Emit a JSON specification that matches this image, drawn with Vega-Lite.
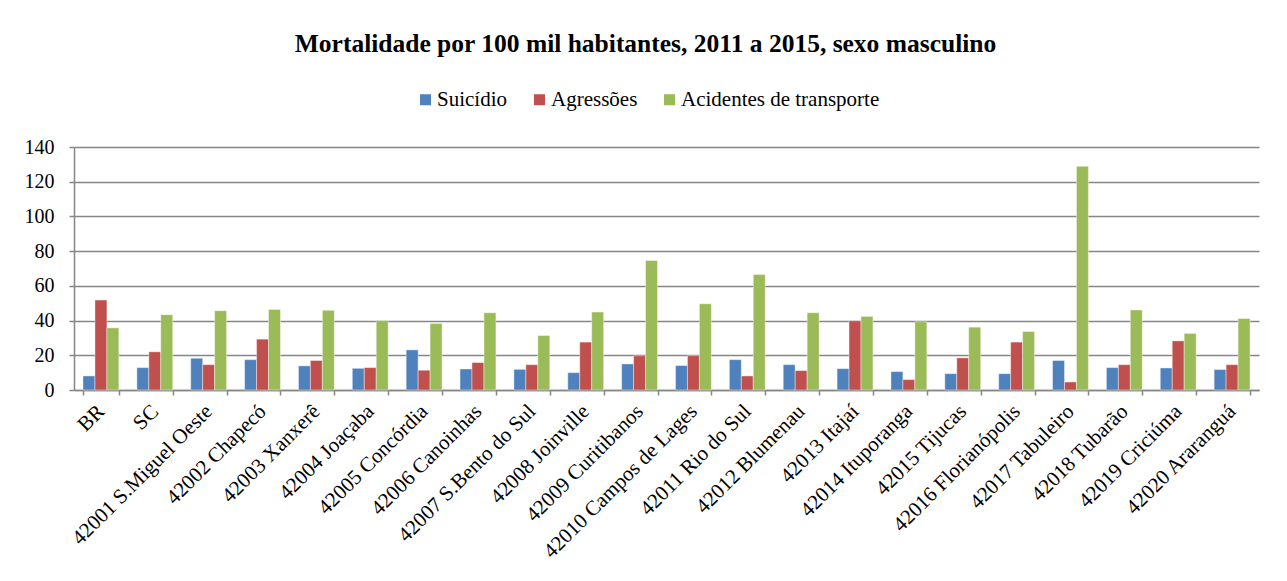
{
  "$schema": "https://vega.github.io/schema/vega-lite/v6.json",
  "autosize": {"type": "none"},
  "width": 1185,
  "height": 243,
  "padding": {"left": 74, "top": 147, "right": 28, "bottom": 191},
  "background": "white",
  "config": {
    "view": {"stroke": null},
    "font": "Liberation Serif, serif",
    "legend": {"labelFont": "Liberation Serif, serif", "labelFontSize": 21, "labelColor": "black"},
    "axis": {"labelFont": "Liberation Serif, serif"}
  },
  "title": {
    "text": "Mortalidade por 100 mil habitantes, 2011 a 2015, sexo masculino",
    "font": "Liberation Serif, serif",
    "fontSize": 25.5,
    "fontWeight": "bold",
    "color": "black",
    "baseline": "alphabetic",
    "offset": 12,
    "dx": -21
  },
  "data": {
    "values": [
      {"regiao": "BR", "causa": "Suicídio", "valor": 8.1},
      {"regiao": "BR", "causa": "Agressões", "valor": 51.8},
      {"regiao": "BR", "causa": "Acidentes de transporte", "valor": 35.8},
      {"regiao": "SC", "causa": "Suicídio", "valor": 12.9},
      {"regiao": "SC", "causa": "Agressões", "valor": 22.0},
      {"regiao": "SC", "causa": "Acidentes de transporte", "valor": 43.4},
      {"regiao": "42001 S.Miguel Oeste", "causa": "Suicídio", "valor": 18.3},
      {"regiao": "42001 S.Miguel Oeste", "causa": "Agressões", "valor": 14.6},
      {"regiao": "42001 S.Miguel Oeste", "causa": "Acidentes de transporte", "valor": 45.7},
      {"regiao": "42002 Chapecó", "causa": "Suicídio", "valor": 17.5},
      {"regiao": "42002 Chapecó", "causa": "Agressões", "valor": 29.3},
      {"regiao": "42002 Chapecó", "causa": "Acidentes de transporte", "valor": 46.4},
      {"regiao": "42003 Xanxerê", "causa": "Suicídio", "valor": 13.9},
      {"regiao": "42003 Xanxerê", "causa": "Agressões", "valor": 17.0},
      {"regiao": "42003 Xanxerê", "causa": "Acidentes de transporte", "valor": 45.9},
      {"regiao": "42004 Joaçaba", "causa": "Suicídio", "valor": 12.5},
      {"regiao": "42004 Joaçaba", "causa": "Agressões", "valor": 12.9},
      {"regiao": "42004 Joaçaba", "causa": "Acidentes de transporte", "valor": 40.1},
      {"regiao": "42005 Concórdia", "causa": "Suicídio", "valor": 23.1},
      {"regiao": "42005 Concórdia", "causa": "Agressões", "valor": 11.4},
      {"regiao": "42005 Concórdia", "causa": "Acidentes de transporte", "valor": 38.3},
      {"regiao": "42006 Canoinhas", "causa": "Suicídio", "valor": 12.1},
      {"regiao": "42006 Canoinhas", "causa": "Agressões", "valor": 15.8},
      {"regiao": "42006 Canoinhas", "causa": "Acidentes de transporte", "valor": 44.5},
      {"regiao": "42007 S.Bento do Sul", "causa": "Suicídio", "valor": 11.9},
      {"regiao": "42007 S.Bento do Sul", "causa": "Agressões", "valor": 14.6},
      {"regiao": "42007 S.Bento do Sul", "causa": "Acidentes de transporte", "valor": 31.4},
      {"regiao": "42008 Joinville", "causa": "Suicídio", "valor": 10.0},
      {"regiao": "42008 Joinville", "causa": "Agressões", "valor": 27.6},
      {"regiao": "42008 Joinville", "causa": "Acidentes de transporte", "valor": 44.9},
      {"regiao": "42009 Curitibanos", "causa": "Suicídio", "valor": 15.0},
      {"regiao": "42009 Curitibanos", "causa": "Agressões", "valor": 19.7},
      {"regiao": "42009 Curitibanos", "causa": "Acidentes de transporte", "valor": 74.6},
      {"regiao": "42010 Campos de Lages", "causa": "Suicídio", "valor": 14.1},
      {"regiao": "42010 Campos de Lages", "causa": "Agressões", "valor": 19.8},
      {"regiao": "42010 Campos de Lages", "causa": "Acidentes de transporte", "valor": 49.7},
      {"regiao": "42011 Rio do Sul", "causa": "Suicídio", "valor": 17.5},
      {"regiao": "42011 Rio do Sul", "causa": "Agressões", "valor": 8.1},
      {"regiao": "42011 Rio do Sul", "causa": "Acidentes de transporte", "valor": 66.5},
      {"regiao": "42012 Blumenau", "causa": "Suicídio", "valor": 14.6},
      {"regiao": "42012 Blumenau", "causa": "Agressões", "valor": 11.2},
      {"regiao": "42012 Blumenau", "causa": "Acidentes de transporte", "valor": 44.5},
      {"regiao": "42013 Itajaí", "causa": "Suicídio", "valor": 12.3},
      {"regiao": "42013 Itajaí", "causa": "Agressões", "valor": 39.9},
      {"regiao": "42013 Itajaí", "causa": "Acidentes de transporte", "valor": 42.4},
      {"regiao": "42014 Ituporanga", "causa": "Suicídio", "valor": 10.6},
      {"regiao": "42014 Ituporanga", "causa": "Agressões", "valor": 6.0},
      {"regiao": "42014 Ituporanga", "causa": "Acidentes de transporte", "valor": 39.3},
      {"regiao": "42015 Tijucas", "causa": "Suicídio", "valor": 9.4},
      {"regiao": "42015 Tijucas", "causa": "Agressões", "valor": 18.5},
      {"regiao": "42015 Tijucas", "causa": "Acidentes de transporte", "valor": 36.2},
      {"regiao": "42016 Florianópolis", "causa": "Suicídio", "valor": 9.4},
      {"regiao": "42016 Florianópolis", "causa": "Agressões", "valor": 27.6},
      {"regiao": "42016 Florianópolis", "causa": "Acidentes de transporte", "valor": 33.7},
      {"regiao": "42017 Tabuleiro", "causa": "Suicídio", "valor": 17.0},
      {"regiao": "42017 Tabuleiro", "causa": "Agressões", "valor": 4.6},
      {"regiao": "42017 Tabuleiro", "causa": "Acidentes de transporte", "valor": 128.9},
      {"regiao": "42018 Tubarão", "causa": "Suicídio", "valor": 12.9},
      {"regiao": "42018 Tubarão", "causa": "Agressões", "valor": 14.6},
      {"regiao": "42018 Tubarão", "causa": "Acidentes de transporte", "valor": 46.1},
      {"regiao": "42019 Criciúma", "causa": "Suicídio", "valor": 12.7},
      {"regiao": "42019 Criciúma", "causa": "Agressões", "valor": 28.3},
      {"regiao": "42019 Criciúma", "causa": "Acidentes de transporte", "valor": 32.6},
      {"regiao": "42020 Araranguá", "causa": "Suicídio", "valor": 11.8},
      {"regiao": "42020 Araranguá", "causa": "Agressões", "valor": 14.6},
      {"regiao": "42020 Araranguá", "causa": "Acidentes de transporte", "valor": 41.2}
    ]
  },
  "mark": {"type": "bar", "stroke": "#ffffff", "strokeOpacity": 0.5, "strokeWidth": 0.8},
  "encoding": {
    "x": {
      "field": "regiao",
      "type": "nominal",
      "sort": null,
      "scale": {"paddingInner": 0.334, "paddingOuter": 0.167},
      "axis": {
        "title": null,
        "labelAngle": -45,
        "labelAlign": "right",
        "labelBaseline": "middle",
        "labelFontSize": 21,
        "labelColor": "black",
        "labelPadding": 13,
        "labelOverlap": false,
        "labelLimit": 400,
        "tickBand": "extent",
        "tickSize": 5,
        "tickColor": "#868686",
        "tickWidth": 1.5,
        "domainColor": "#868686",
        "domainWidth": 1.5,
        "grid": false
      }
    },
    "xOffset": {
      "field": "causa",
      "type": "nominal",
      "sort": ["Suicídio", "Agressões", "Acidentes de transporte"],
      "scale": {"paddingInner": 0, "paddingOuter": 0}
    },
    "y": {
      "field": "valor",
      "type": "quantitative",
      "scale": {"domain": [0, 140], "nice": false},
      "axis": {
        "title": null,
        "values": [0, 20, 40, 60, 80, 100, 120, 140],
        "labelFontSize": 20,
        "labelColor": "black",
        "labelPadding": 15,
        "tickSize": 5,
        "tickColor": "#868686",
        "tickWidth": 1.5,
        "domainColor": "#868686",
        "domainWidth": 1.5,
        "grid": true,
        "gridColor": "#868686",
        "gridWidth": 1.5
      }
    },
    "color": {
      "field": "causa",
      "type": "nominal",
      "sort": ["Suicídio", "Agressões", "Acidentes de transporte"],
      "scale": {
        "domain": ["Suicídio", "Agressões", "Acidentes de transporte"],
        "range": ["#4F81BD", "#C0504D", "#9BBB59"]
      },
      "legend": {
        "title": null,
        "orient": "none",
        "direction": "horizontal",
        "legendX": 341,
        "legendY": -58,
        "symbolType": "square",
        "symbolSize": 121,
        "symbolStrokeWidth": 0,
        "labelFont": "Liberation Serif, serif",
        "labelFontSize": 21,
        "labelColor": "black",
        "labelOffset": 1,
        "columnPadding": 21,
        "labelLimit": 400
      }
    }
  }
}
